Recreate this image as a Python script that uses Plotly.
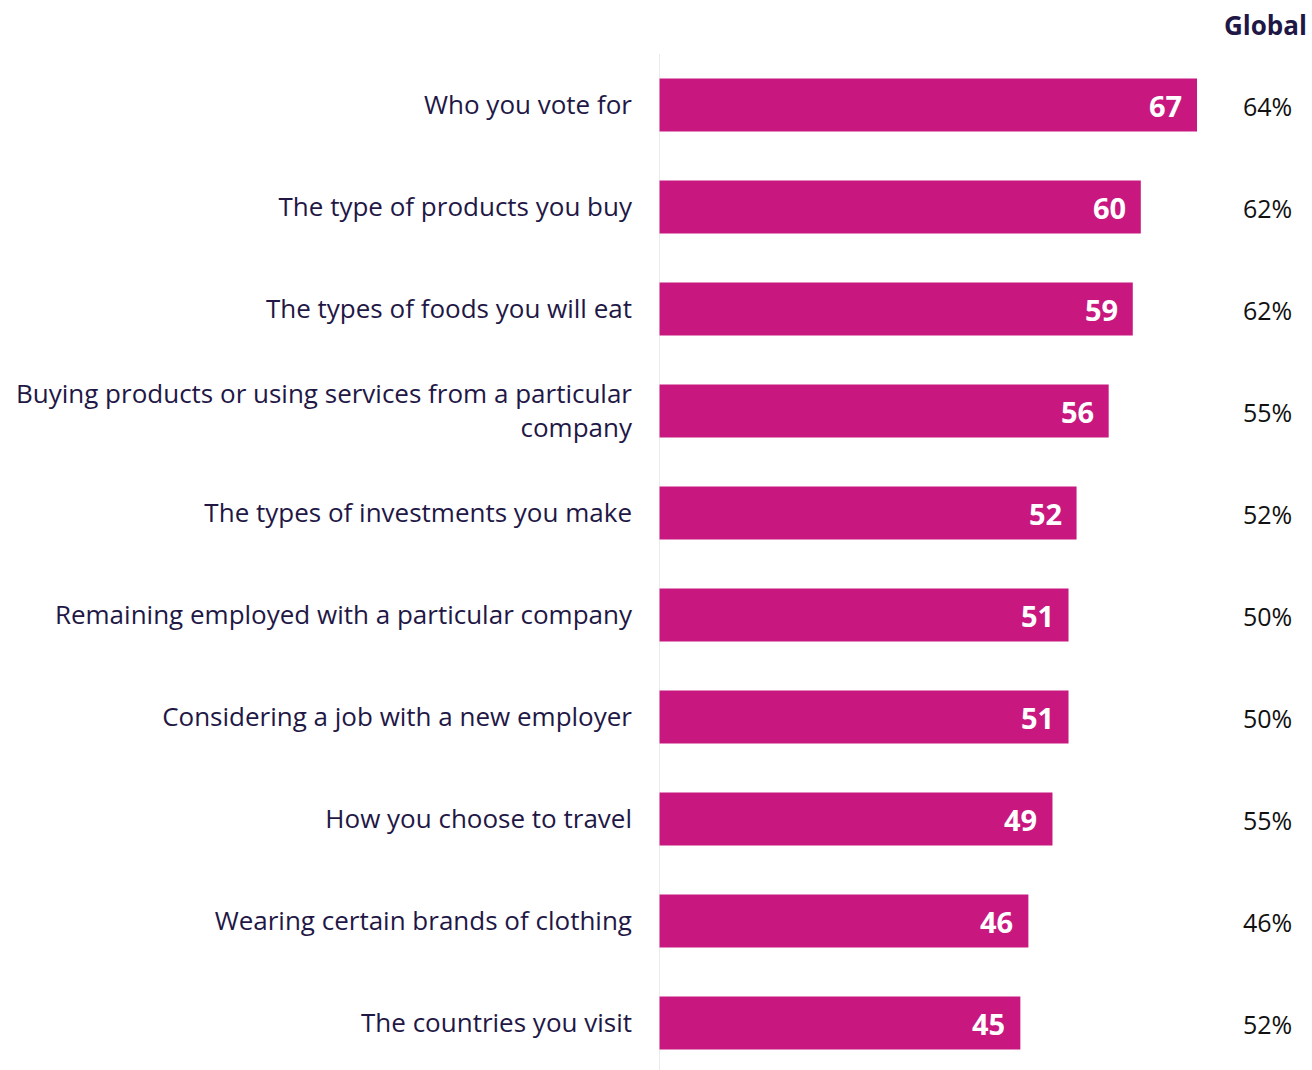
import plotly.graph_objects as go

categories = [
    "Who you vote for",
    "The type of products you buy",
    "The types of foods you will eat",
    "Buying products or using services from a particular<br>company",
    "The types of investments you make",
    "Remaining employed with a particular company",
    "Considering a job with a new employer",
    "How you choose to travel",
    "Wearing certain brands of clothing",
    "The countries you visit",
]
values = [67, 60, 59, 56, 52, 51, 51, 49, 46, 45]
global_values = [64, 62, 62, 55, 52, 50, 50, 55, 46, 52]
global_title = "Global"

BAR = "#C8177F"
NAVY = "#1F1846"
FONT = "Open Sans"

fig = go.Figure()
fig.add_trace(go.Bar(
    y=categories, x=values, orientation="h",
    marker=dict(color=BAR, line=dict(width=0)),
    width=0.52, hoverinfo="skip",
))

for c, v in zip(categories, values):
    fig.add_annotation(x=v, y=c, xref="x", yref="y", text=f"<b>{v}</b>",
                       showarrow=False, xanchor="right", xshift=-13,
                       font=dict(family=FONT, size=29, color="white"))

for c, g in zip(categories, global_values):
    fig.add_annotation(x=(1267 - 659) / 653, y=c, xref="paper", yref="y", text=f"{g}%",
                       showarrow=False, xanchor="center", yshift=-1,
                       font=dict(family=FONT, size=25, color="#111111"))

fig.add_annotation(x=1.0, y=1 + (54 - 25) / 1016, xref="paper", yref="paper",
                   text=f"<b>{global_title}</b>", showarrow=False, xanchor="right", yanchor="middle",
                   xshift=-3, font=dict(family=FONT, size=26, color=NAVY))

fig.add_shape(type="line", xref="x", yref="paper", x0=0, x1=0, y0=0, y1=1.0,
              line=dict(color="#DDDDDD", width=1.2))

fig.update_layout(
    width=1312, height=1070,
    margin=dict(l=659, r=0, t=54, b=0),
    plot_bgcolor="white", paper_bgcolor="white",
    showlegend=False,
    xaxis=dict(range=[0, 653 / 8.03], visible=False, fixedrange=True),
    yaxis=dict(range=[-0.5 + 1016 / 102, -0.5], showgrid=False, zeroline=False, showline=False,
               ticks="", ticklabelstandoff=26,
               tickfont=dict(family=FONT, size=26, color=NAVY), fixedrange=True),
    bargap=0.48,
)

fig.write_html("out.html", config={"displayModeBar": False},
               post_script="document.body.style.margin='0';document.body.style.overflow='hidden';")
